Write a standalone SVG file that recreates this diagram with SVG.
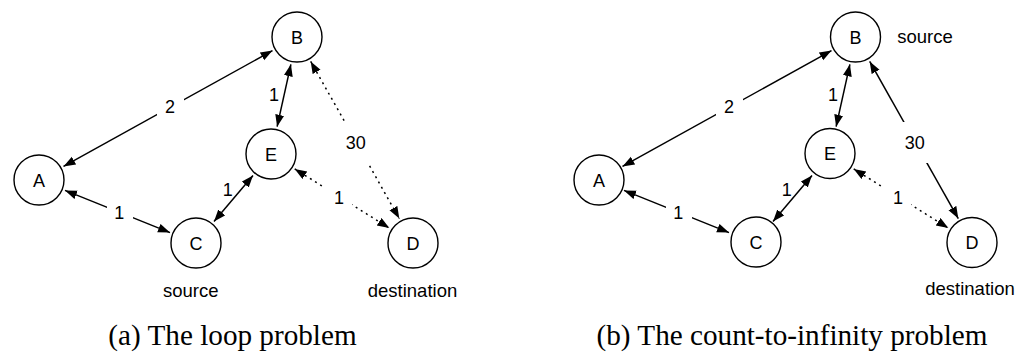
<svg xmlns="http://www.w3.org/2000/svg" width="1019" height="352" viewBox="0 0 1019 352">
<style>
.node circle{fill:#fff;stroke:#000;stroke-width:1.4}
.nt{font-family:"Liberation Sans",Arial,sans-serif;font-size:18px;text-anchor:middle;fill:#000}
.lbl{font-family:"Liberation Sans",Arial,sans-serif;font-size:18.5px;fill:#000}
.edge{stroke:#000;stroke-width:1.5;fill:none;marker-start:url(#ah);marker-end:url(#ah)}
.dot{stroke-dasharray:2 4}
.gap{fill:#fff;stroke:none}
.cap{font-family:"Liberation Serif","Times New Roman",serif;font-size:29.2px;text-anchor:middle;fill:#000}
</style>
<defs>
<marker id="ah" markerUnits="userSpaceOnUse" markerWidth="13" markerHeight="10" refX="12" refY="4.5" orient="auto-start-reverse">
<path d="M0,0 L12,4.5 L0,9 z" fill="#000"/>
</marker>
</defs>
<rect width="1019" height="352" fill="#fff"/>

<!-- Panel (a) -->
<g id="panel-a">
<g id="edges-a">
<line class="edge" x1="63.5" y1="166.4" x2="272.5" y2="50.6"/>
<line class="edge" x1="290.9" y1="64.3" x2="277.1" y2="126.7"/>
<line class="edge dot" x1="310.7" y1="61.4" x2="399.3" y2="218.6"/>
<line class="edge dot" x1="294.7" y1="168.9" x2="389.3" y2="228.1"/>
<line class="edge" x1="214.0" y1="221.6" x2="253.0" y2="175.4"/>
<line class="edge" x1="65.0" y1="190.4" x2="170.0" y2="232.6"/>
<rect class="gap" x="157" y="96" width="27" height="22"/>
<rect class="gap" x="343" y="122" width="26" height="41"/>
<rect class="gap" x="324" y="186" width="28" height="20"/>
<rect class="gap" x="107" y="202" width="26" height="20"/>
<text class="nt" x="170" y="113">2</text>
<text class="nt" x="274" y="101">1</text>
<text class="nt" x="355.7" y="149.3">30</text>
<text class="nt" x="227.7" y="195.6">1</text>
<text class="nt" x="339" y="204">1</text>
<text class="nt" x="119.3" y="219.3">1</text>
</g>
<g id="a-node-A" class="node"><circle cx="39" cy="180" r="25"/><text class="nt" x="39" y="186.5">A</text></g>
<g id="a-node-B" class="node"><circle cx="297" cy="37" r="25"/><text class="nt" x="297" y="43.5">B</text></g>
<g id="a-node-C" class="node"><circle cx="196" cy="243" r="25"/><text class="nt" x="196" y="249.5">C</text></g>
<g id="a-node-D" class="node"><circle cx="413" cy="243" r="25"/><text class="nt" x="413" y="249.5">D</text></g>
<g id="a-node-E" class="node"><circle cx="271" cy="154" r="25"/><text class="nt" x="271" y="160.5">E</text></g>
<text class="lbl" x="190.7" y="296.5" text-anchor="middle">source</text>
<text class="lbl" x="412.5" y="296.5" text-anchor="middle">destination</text>
<text class="cap" x="232.5" y="345">(a) The loop problem</text>
</g>

<!-- Panel (b) -->
<g id="panel-b" transform="translate(559,0)">
<g id="edges-b">
<line class="edge" x1="63.5" y1="166.4" x2="272.5" y2="50.6"/>
<line class="edge" x1="290.9" y1="64.3" x2="277.1" y2="126.7"/>
<line class="edge" x1="310.7" y1="61.4" x2="399.3" y2="218.6"/>
<line class="edge dot" x1="294.7" y1="168.9" x2="389.3" y2="228.1"/>
<line class="edge" x1="214.0" y1="221.6" x2="253.0" y2="175.4"/>
<line class="edge" x1="65.0" y1="190.4" x2="170.0" y2="232.6"/>
<rect class="gap" x="157" y="96" width="27" height="22"/>
<rect class="gap" x="343" y="122" width="26" height="41"/>
<rect class="gap" x="324" y="186" width="28" height="20"/>
<rect class="gap" x="107" y="202" width="26" height="20"/>
<text class="nt" x="170" y="113">2</text>
<text class="nt" x="274" y="101">1</text>
<text class="nt" x="355.7" y="149.3">30</text>
<text class="nt" x="227.7" y="195.6">1</text>
<text class="nt" x="339" y="204">1</text>
<text class="nt" x="119.3" y="219.3">1</text>
</g>
<g id="b-node-A" class="node"><circle cx="40" cy="180" r="25"/><text class="nt" x="40" y="186.5">A</text></g>
<g id="b-node-B" class="node"><circle cx="296.5" cy="37" r="25"/><text class="nt" x="296.5" y="43.5">B</text></g>
<g id="b-node-C" class="node"><circle cx="197" cy="242" r="25"/><text class="nt" x="197" y="248.5">C</text></g>
<g id="b-node-D" class="node"><circle cx="413" cy="242.5" r="25"/><text class="nt" x="413" y="249">D</text></g>
<g id="b-node-E" class="node"><circle cx="271" cy="153.5" r="25"/><text class="nt" x="271" y="160">E</text></g>
<text class="lbl" x="338.3" y="43">source</text>
<text class="lbl" x="411" y="295" text-anchor="middle">destination</text>
<text class="cap" x="233" y="345">(b) The count-to-infinity problem</text>
</g>
</svg>
